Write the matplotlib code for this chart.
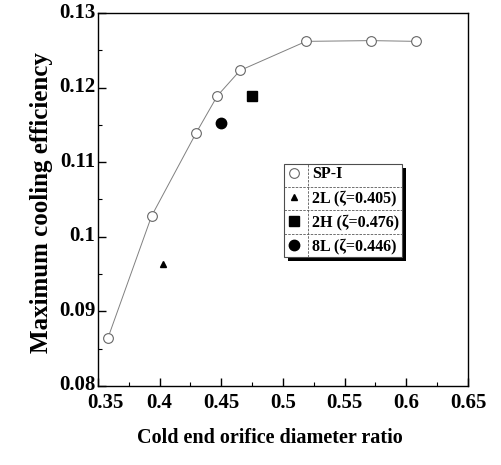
import matplotlib.pyplot as plt
from matplotlib.lines import Line2D
from matplotlib.patches import Rectangle
from matplotlib.transforms import ScaledTranslation
import numpy as np

plt.rcParams['font.family'] = ['Liberation Serif', 'DejaVu Serif']
plt.rcParams['font.weight'] = 'bold'

# SP-I series
sp_x = [0.358, 0.3935, 0.4295, 0.4468, 0.4652, 0.5187, 0.5714, 0.608]
sp_y = [0.0864, 0.1028, 0.1139, 0.1189, 0.1223, 0.1262, 0.1263, 0.1262]

# single cases
l2_x, l2_y = [0.403], [0.0964]
h2_x, h2_y = [0.4751], [0.1189]
l8_x, l8_y = [0.4495], [0.1152]

labels = ['SP-I', '2L (\u03b6=0.405)', '2H (\u03b6=0.476)', '8L (\u03b6=0.446)']
xticks = [0.35, 0.4, 0.45, 0.5, 0.55, 0.6, 0.65]
xtick_labels = ['0.35', '0.4', '0.45', '0.5', '0.55', '0.6', '0.65']
yticks = [0.08, 0.09, 0.1, 0.11, 0.12, 0.13]
ytick_labels = ['0.08', '0.09', '0.1', '0.11', '0.12', '0.13']

fig = plt.figure(figsize=(5.01, 4.65), dpi=100)
ax = fig.add_axes([0.1956, 0.170, 0.7385, 0.802])

ax.plot(sp_x, sp_y, color='0.5', lw=0.7, marker='o', ms=7,
        mfc='white', mec='0.4', mew=0.8)
ax.plot(l2_x, l2_y, ls='none', marker='^', ms=5, color='black')
ax.plot(h2_x, h2_y, ls='none', marker='s', ms=6.5, color='black')
ax.plot(l8_x, l8_y, ls='none', marker='o', ms=7.5, color='black')

ax.set_xlim(0.35, 0.65)
ax.set_ylim(0.08, 0.13)
ax.set_xticks(xticks)
ax.set_xticklabels(xtick_labels)
ax.set_xticks(np.arange(0.375, 0.65, 0.05), minor=True)
ax.set_yticks(yticks)
ax.set_yticklabels(ytick_labels)
ax.set_yticks(np.arange(0.085, 0.13, 0.01), minor=True)
ax.tick_params(which='major', direction='in', length=6, width=1, labelsize=15)
ax.tick_params(axis='x', which='major', pad=5)
ax.tick_params(axis='y', which='major', pad=2)
ax.tick_params(which='minor', direction='in', length=3, width=0.8)
for lab in ax.get_xticklabels() + ax.get_yticklabels():
    lab.set_fontweight('bold')
# first x label sits a bit to the right, y labels a bit high
first = ax.get_xticklabels()[0]
first.set_transform(first.get_transform() + ScaledTranslation(7 / 100, 0, fig.dpi_scale_trans))
for lab in ax.get_yticklabels():
    lab.set_transform(lab.get_transform() + ScaledTranslation(0, 3 / 100, fig.dpi_scale_trans))
for s in ax.spines.values():
    s.set_linewidth(1.0)

ax.set_xlabel('Cold end orifice diameter ratio', fontsize=14.5, fontweight='bold')
ax.set_ylabel('Maximum cooling efficiency', fontsize=18, fontweight='bold')
ax.xaxis.set_label_coords(0.465, -0.113)
ax.yaxis.set_label_coords(-0.122, 0.493)

handles = [
    Line2D([], [], ls='none', marker='o', ms=7, mfc='white', mec='0.4', mew=0.8),
    Line2D([], [], ls='none', marker='^', ms=5, color='black'),
    Line2D([], [], ls='none', marker='s', ms=6.5, color='black'),
    Line2D([], [], ls='none', marker='o', ms=7.5, color='black'),
]
leg = ax.legend(handles, labels, loc='upper left', bbox_to_anchor=(0.503, 0.595),
                fancybox=False, shadow=False, edgecolor='0.3',
                prop={'size': 11.5, 'weight': 'bold'}, borderpad=0.15,
                labelspacing=0.5, handlelength=1.0, handletextpad=0.6,
                borderaxespad=0, framealpha=1)
leg.get_frame().set_linewidth(0.8)

# table-style dividers and solid shadow
fig.canvas.draw()
bb = leg.get_window_extent().transformed(ax.transAxes.inverted())
x0, y0, x1, y1 = bb.x0, bb.y0, bb.x1, bb.y1
shadow_tr = ax.transAxes + ScaledTranslation(4 / 100, -4 / 100, fig.dpi_scale_trans)
ax.add_patch(Rectangle((x0, y0), x1 - x0, y1 - y0, transform=shadow_tr,
                       facecolor='black', edgecolor='none', zorder=4.9, clip_on=False))
xdiv = x0 + (x1 - x0) * 0.2
ax.plot([xdiv, xdiv], [y0, y1], transform=ax.transAxes, color='0.35', lw=0.6,
        ls=(0, (3, 1.5)), zorder=10, clip_on=False)
for i in range(1, 4):
    yy = y1 - (y1 - y0) * i / 4
    ax.plot([x0, x1], [yy, yy], transform=ax.transAxes, color='0.35', lw=0.6,
            ls=(0, (3, 1.5)), zorder=10, clip_on=False)

fig.savefig('out.png', dpi=100)
